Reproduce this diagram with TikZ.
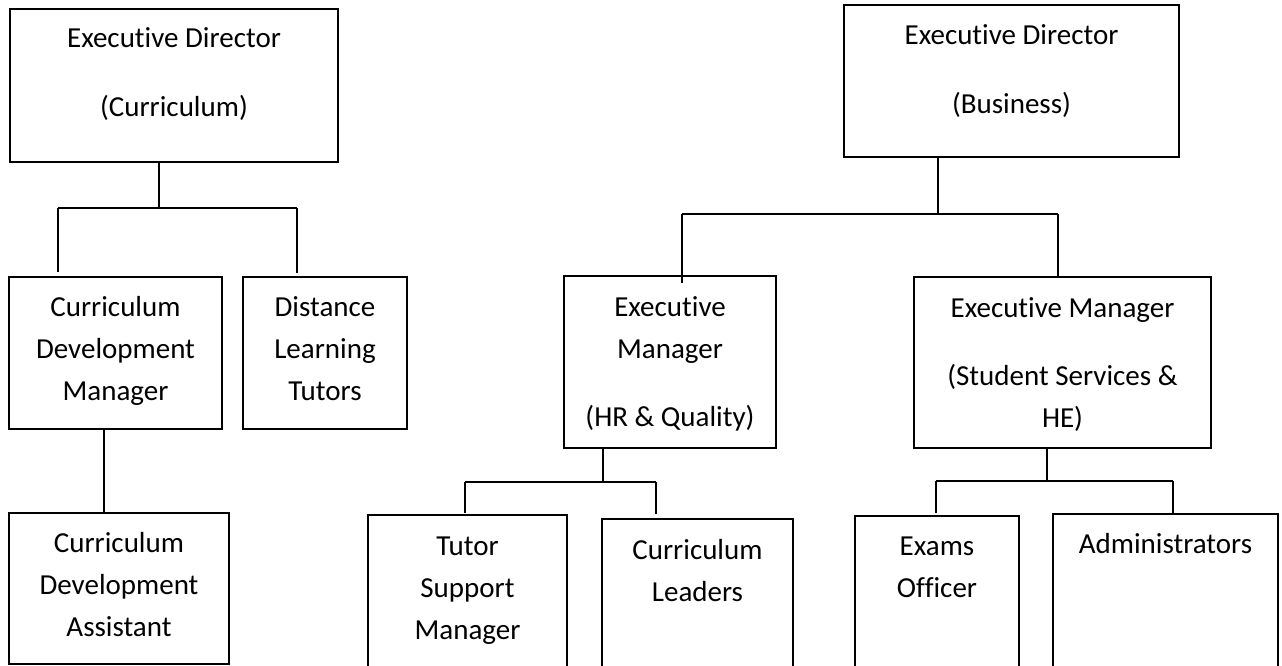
\documentclass[tikz,border=0pt]{standalone}
\usepackage{fontspec}
\setmainfont{Carlito}[Ligatures=NoCommon, Contextuals=NoAlternate]
\usepackage{tikz}

\tikzset{
  box/.style={draw, line width=2pt, inner sep=0pt, outer sep=0pt},
  txt/.style={align=flush center, inner sep=0pt, anchor=base, font=\fontsize{29}{42}\selectfont},
  link/.style={line width=1.6pt}
}

\begin{document}
\begin{tikzpicture}[x=1pt,y=-1pt]

\useasboundingbox (0,0) rectangle (1282,666);
\clip (0,0) rectangle (1282,666);

\node[box, minimum width=328, minimum height=153] (edc) at (174,85.5) {};
\node[box, minimum width=335, minimum height=152] (edb) at (1011.5,81) {};
\node[box, minimum width=213, minimum height=152] (cdm) at (115.5,353) {};
\node[box, minimum width=164, minimum height=152] (dlt) at (325,353) {};
\node[box, minimum width=220, minimum height=151] (cda) at (119,588.5) {};
\node[box, minimum width=212, minimum height=172] (emh) at (670,362) {};
\node[box, minimum width=297, minimum height=171] (ems) at (1062.5,362.5) {};
\node[box, minimum width=199, minimum height=175] (tsm) at (467.5,602.5) {};
\node[box, minimum width=191, minimum height=171] (cld) at (697.5,604.5) {};
\node[box, minimum width=164, minimum height=174] (exo) at (937,603) {};
\node[box, minimum width=225, minimum height=176] (adm) at (1165.5,602) {};

\node[txt, text width=300] (edc-t) at (174,48) {Executive Director\\[27pt](Curriculum)};
\node[txt, text width=300] (edb-t) at (1011.5,45) {Executive Director\\[27pt](Business)};
\node[txt, text width=200] (cdm-t) at (115.5,316) {Curriculum\\Development\\Manager};
\node[txt, text width=150] (dlt-t) at (325,316) {Distance\\Learning\\Tutors};
\node[txt, text width=200] (cda-t) at (119,552) {Curriculum\\Development\\Assistant};
\node[txt, text width=200] (emh-t) at (670,316) {Executive\\Manager\\[26pt](HR \& Quality)};
\node[txt, text width=280] (ems-t) at (1062.5,317) {Executive Manager\\[26pt](Student Services \&\\HE)};
\node[txt, text width=190] (tsm-t) at (467.5,555) {Tutor\\Support\\Manager};
\node[txt, text width=180] (cld-t) at (697.5,559) {Curriculum\\Leaders};
\node[txt, text width=150] (exo-t) at (937,555) {Exams\\Officer};
\node[txt, text width=215] (adm-t) at (1165.5,553) {Administrators};

% curriculum side
\coordinate (j1) at (159,208);
\coordinate (j1l) at (58,208);
\coordinate (j1r) at (297,208);
\draw[link] (edc.south -| j1) -- (j1);
\draw[link] (j1l) -- (j1r);
\draw[link, shorten >=5pt] (j1l) -- (j1l |- cdm.north);
\draw[link, shorten >=4pt] (j1r) -- (j1r |- dlt.north);

\coordinate (k1) at (104,0);
\draw[link] (cdm.south -| k1) -- (cda.north -| k1);

% business side
\coordinate (j2) at (938,214);
\coordinate (j2l) at (682,214);
\coordinate (j2r) at (1058,214);
\draw[link] (edb.south -| j2) -- (j2);
\draw[link] (j2l) -- (j2r);
\draw[link, shorten >=-7pt] (j2l) -- (j2l |- emh.north);
\draw[link] (j2r) -- (j2r |- ems.north);

\coordinate (j3) at (603,482);
\coordinate (j3l) at (465,482);
\coordinate (j3r) at (656,482);
\draw[link] (emh.south -| j3) -- (j3);
\draw[link] (j3l) -- (j3r);
\draw[link, shorten >=2pt] (j3l) -- (j3l |- tsm.north);
\draw[link, shorten >=5pt] (j3r) -- (j3r |- cld.north);

\coordinate (j4) at (1047,481);
\coordinate (j4l) at (936,481);
\coordinate (j4r) at (1173,481);
\draw[link] (ems.south -| j4) -- (j4);
\draw[link] (j4l) -- (j4r);
\draw[link, shorten >=3pt] (j4l) -- (j4l |- exo.north);
\draw[link, shorten >=1pt] (j4r) -- (j4r |- adm.north);

\end{tikzpicture}
\end{document}
